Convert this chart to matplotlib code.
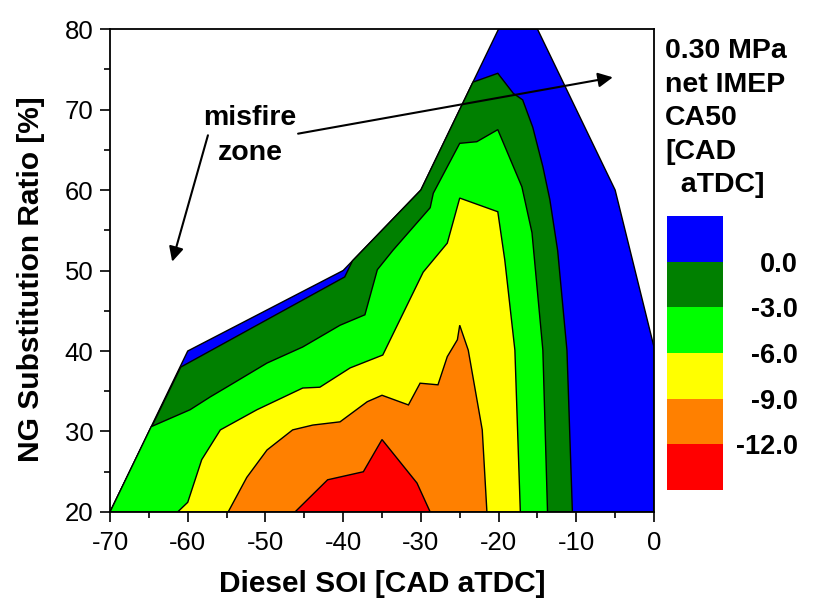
import matplotlib
matplotlib.use("Agg")
import matplotlib.pyplot as plt
from matplotlib.colors import ListedColormap, BoundaryNorm
from matplotlib.cm import ScalarMappable
from matplotlib.ticker import MultipleLocator

plt.rcParams["font.family"] = ["Liberation Sans", "DejaVu Sans"]
plt.rcParams["axes.unicode_minus"] = False

# outer edge of the measured region (diesel SOI, NG ratio)
domain_x = [-70, -60, -40, -30, -20, -15, -5, 0, 0]
domain_y = [20, 40, 50, 60, 80, 80, 60, 40.5, 20]

# contour lines of CA50
c0a_x = [-60.9, -39.8, -38.8]
c0a_y = [38.0, 49.2, 51.2]
c0b_x = [-23.3, -20.1, -18.1, -16.9, -15.6, -14.3, -13.4, -12.4, -11.2, -10.5]
c0b_y = [73.4, 74.5, 72.0, 71.2, 67.8, 62.9, 58.8, 52.5, 40.1, 20.0]
c3_x = [-64.7, -59.7, -57.1, -55.0, -49.8, -45.2, -40.4, -37.2, -35.6, -33.6,
        -28.8, -28.4, -25.0, -22.8, -20.1, -17.0, -15.7, -14.3, -13.7]
c3_y = [30.6, 32.7, 34.3, 35.5, 38.5, 40.5, 43.2, 44.5, 50.1, 52.5,
        57.8, 59.6, 65.8, 66.0, 67.5, 60.4, 54.7, 40.1, 20.0]
c6_x = [-61.3, -60.0, -58.2, -55.8, -51.1, -45.2, -43.0, -39.1, -34.9, -29.7,
        -26.6, -25.0, -20.1, -19.2, -17.9, -17.2]
c6_y = [20.0, 21.2, 26.5, 30.2, 32.7, 35.4, 35.5, 37.9, 39.5, 49.8,
        53.4, 59.0, 57.3, 51.3, 40.1, 20.0]
c9_x = [-54.8, -52.4, -49.8, -46.5, -43.9, -40.4, -36.9, -35.0, -31.6, -30.1,
        -27.8, -26.6, -25.3, -25.0, -23.9, -22.1, -21.5]
c9_y = [20.0, 24.3, 27.7, 30.2, 30.8, 31.2, 33.7, 34.5, 33.3, 36.0,
        35.8, 39.3, 41.4, 43.2, 40.1, 30.2, 20.0]
c12_x = [-46.2, -42.0, -37.4, -35.0, -30.5, -28.8]
c12_y = [20.0, 24.0, 25.0, 29.0, 23.6, 20.0]

levels = [-15, -12, -9, -6, -3, 0, 3]
level_labels = ["-12.0", "-9.0", "-6.0", "-3.0", "0.0"]
colors = ["#ff0000", "#ff8000", "#ffff00", "#00ff00", "#008000", "#0000ff"]

fig = plt.figure(figsize=(8.18, 6.15), dpi=100)
ax = fig.add_axes([0.1345, 0.1675, 0.665, 0.7853])

# bands, from the highest CA50 (blue) down to the lowest (red)
ax.fill(domain_x, domain_y, color=colors[5], ec="black", lw=1)
ax.fill(c0a_x + [-30] + c0b_x + [-70], c0a_y + [60] + c0b_y + [20],
        color=colors[4], ec="black", lw=1)
ax.fill(c3_x + [-70], c3_y + [20], color=colors[3], ec="black", lw=1)
ax.fill(c6_x, c6_y, color=colors[2], ec="black", lw=1)
ax.fill(c9_x, c9_y, color=colors[1], ec="black", lw=1)
ax.fill(c12_x, c12_y, color=colors[0], ec="black", lw=1)

ax.set_xlim(-70, 0)
ax.set_ylim(20, 80)
ax.xaxis.set_major_locator(MultipleLocator(10))
ax.xaxis.set_minor_locator(MultipleLocator(5))
ax.yaxis.set_major_locator(MultipleLocator(10))
ax.yaxis.set_minor_locator(MultipleLocator(5))
ax.tick_params(which="major", length=7, width=1.2, labelsize=18.5)
ax.tick_params(axis="x", which="major", pad=7)
ax.tick_params(axis="y", which="major", pad=5)
ax.tick_params(which="minor", length=4, width=1.2)
for s in ax.spines.values():
    s.set_linewidth(1.3)
    s.set_zorder(5)

ax.set_xlabel("Diesel SOI [CAD aTDC]", fontsize=21.5, fontweight="bold")
ax.set_ylabel("NG Substitution Ratio [%]", fontsize=21.5, fontweight="bold")
ax.xaxis.set_label_coords(0.5, -0.12)
ax.yaxis.set_label_coords(-0.12, 0.483)

ax.text(-52.0, 68.1, "misfire", fontsize=20.5, fontweight="bold",
        ha="center", va="baseline")
ax.text(-52.0, 63.7, "zone", fontsize=20.5, fontweight="bold",
        ha="center", va="baseline")
ax.annotate("", xy=(-62.0, 51.1), xytext=(-57.4, 66.8),
            arrowprops=dict(arrowstyle="-|>", color="black", lw=1.5,
                            mutation_scale=22, shrinkA=0, shrinkB=0))
ax.annotate("", xy=(-5.3, 74.0), xytext=(-45.8, 67.0),
            arrowprops=dict(arrowstyle="-|>", color="black", lw=1.5,
                            mutation_scale=22, shrinkA=0, shrinkB=0))

# legend bar
cax = fig.add_axes([0.8154, 0.2033, 0.0685, 0.4455])
cmap = ListedColormap(colors)
norm = BoundaryNorm(levels, cmap.N)
cb = fig.colorbar(ScalarMappable(norm=norm, cmap=cmap), cax=cax,
                  ticks=levels[1:-1])
cb.outline.set_visible(False)
cb.ax.minorticks_off()
cb.ax.set_yticklabels(level_labels)
cb.ax.tick_params(which="both", length=0, pad=54)
for t in cb.ax.get_yticklabels():
    t.set_ha("right")
    t.set_fontsize(19.5)
    t.set_fontweight("bold")

fig.text(0.813, 1 - 38 / 615, "0.30 MPa\nnet IMEP\nCA50\n[CAD\n  aTDC]",
         fontsize=20.5, fontweight="bold", ha="left", va="top", linespacing=1.38)

fig.savefig("out.png", dpi=100)
